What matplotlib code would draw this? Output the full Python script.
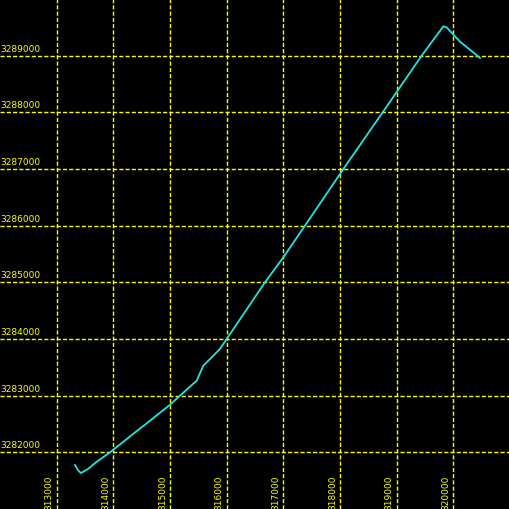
import matplotlib
matplotlib.use("Agg")
import matplotlib.pyplot as plt
import matplotlib.transforms as mtransforms

# track coordinates (easting, northing)
east = [313324, 313380, 313429, 313553, 313700, 313941, 314300, 314700,
        315000, 315176, 315471, 315530, 315588, 315706, 315882, 316000,
        316300, 316676, 317000, 317382, 318000, 318059, 318753, 319441,
        319700, 319824, 319880, 320118, 320300, 320471]
north = [3281776, 3281680, 3281635, 3281706, 3281830, 3282000, 3282285, 3282600,
         3282840, 3283000, 3283265, 3283400, 3283529, 3283647, 3283824, 3284000,
         3284444, 3285000, 3285441, 3286000, 3286912, 3287000, 3288000, 3289000,
         3289350, 3289518, 3289500, 3289247, 3289100, 3288959]

x_ticks = [313000, 314000, 315000, 316000, 317000, 318000, 319000, 320000]
y_ticks = [3282000, 3283000, 3284000, 3285000, 3286000, 3287000, 3288000, 3289000]

fig = plt.figure(figsize=(5.1, 5.1), dpi=100, facecolor="black")
ax = fig.add_axes([0, 0, 1, 1], facecolor="black")
ax.set_xlim(312000, 321000)
ax.set_ylim(3281000, 3290000)

for xv in x_ticks:
    ax.axvline(xv, color="#ffff00", lw=1, dashes=(3, 1.5), zorder=1)
for yv in y_ticks:
    ax.axhline(yv, color="#ffff00", lw=1, dashes=(3, 1.5), zorder=1)

ax.plot(east, north, color="#22e4e4", lw=1.3, zorder=3)

font = ["Liberation Sans Narrow", "DejaVu Sans"]
offx = mtransforms.offset_copy(ax.transData, fig=fig, x=-3, y=0, units="dots")
bx = mtransforms.blended_transform_factory(offx, ax.transAxes)
for xv in x_ticks:
    ax.text(xv, 0.0, str(xv), transform=bx, rotation=90, color="#ffff00",
            fontsize=6.5, family=font, ha="right", va="bottom")

offy = mtransforms.offset_copy(ax.transData, fig=fig, x=0, y=3, units="dots")
by = mtransforms.blended_transform_factory(ax.transAxes, offy)
for yv in y_ticks:
    ax.text(0.0, yv, str(yv), transform=by, color="#ffff00",
            fontsize=6.5, family=font, ha="left", va="bottom")

ax.set_xticks([])
ax.set_yticks([])
for s in ax.spines.values():
    s.set_visible(False)

fig.savefig("out.png", dpi=100, facecolor="black")
